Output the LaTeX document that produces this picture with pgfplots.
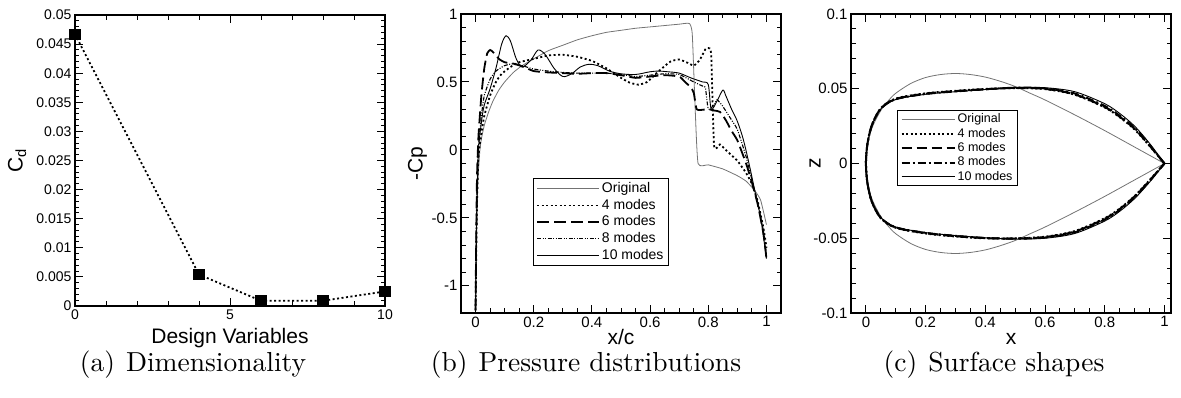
\documentclass[border=0pt]{standalone}
\usepackage{fontspec}
\usepackage{pgfplots}
\pgfplotsset{compat=1.18}
\newfontfamily\arial{Liberation Sans}
\definecolor{origgray}{gray}{0.45}
\pgfplotsset{
 myaxis/.style={
  scale only axis,
  axis line style={line width=1.9pt},
  tick style={black, line width=1pt},
  major tick length=8pt, minor tick length=4.5pt,
  tick align=inside,
  /pgf/number format/assume math mode=true,
  ticklabel style={font=\arial\fontsize{15}{17}\selectfont},
  label style={font=\arial\fontsize{21}{24}\selectfont},
  scaled ticks=false,
  yticklabel style={/pgf/number format/fixed, /pgf/number format/precision=3},
  xticklabel style={/pgf/number format/fixed, /pgf/number format/precision=2},
  legend cell align=left,
 },
 origstyle/.style={origgray, line width=0.8pt},
}
\begin{document}
\begin{tikzpicture}
\useasboundingbox (0pt,0pt) rectangle (1181pt,398pt);
% ---------------- (a)
\begin{axis}[myaxis, at={(75pt,92pt)}, anchor=south west, width=310pt, height=291pt,
  xmin=0, xmax=10, ymin=0, ymax=0.05,
  xtick={0,5,10}, minor x tick num=4,
  ytick={0,0.005,0.01,0.015,0.02,0.025,0.03,0.035,0.04,0.045,0.05}, minor y tick num=4,
  clip=false,
  ticklabel style={font=\arial\fontsize{14}{16}\selectfont},
  xlabel={Design Variables}, ylabel={C\textsubscript{d}},
  xlabel style={at={(axis description cs:0.5,-0.13)}, anchor=base},
  ylabel style={at={(axis description cs:-0.187,0.5)}, anchor=center}]
\addplot[black, line width=1.8pt, dash pattern=on 2pt off 2.5pt, mark=square*, mark size=4.8pt, mark options={solid}]
 coordinates {(0,0.0467)(4,0.0054)(6,0.0009)(8,0.0009)(10,0.0025)};
\end{axis}
% ---------------- (b)
\begin{axis}[myaxis, at={(461pt,85pt)}, anchor=south west, width=320pt, height=299pt,
  xmin=-0.05, xmax=1.05, ymin=-1.2, ymax=1,
  xtick={0,0.2,0.4,0.6,0.8,1}, minor x tick num=3,
  ytick={-1,-0.5,0,0.5,1}, minor y tick num=4,
  xlabel={x/c}, ylabel={-Cp},
  xlabel style={at={(axis description cs:0.5,-0.107)}, anchor=base},
  ylabel style={at={(axis description cs:-0.136,0.5)}, anchor=center},
  legend image code/.code={\draw[#1] (0pt,0pt) -- (62pt,0pt);},
  legend style={at={(0.224,0.4515)}, anchor=north west, draw=black, line width=1pt,
    font=\arial\fontsize{14}{16.7}\selectfont,
    nodes={text height=10pt, text depth=3pt, inner ysep=1.85pt}}]
\addplot[origstyle, smooth, tension=0.3] coordinates {(0,-1.18)(0.001,-0.9)(0.003,-0.6)(0.006,-0.35)(0.01,-0.15)(0.015,0.0)(0.02,0.08)(0.03,0.18)(0.045,0.28)(0.06,0.36)(0.08,0.44)(0.1,0.5)(0.13,0.57)(0.16,0.62)(0.2,0.67)(0.25,0.73)(0.3,0.77)(0.35,0.81)(0.4,0.84)(0.45,0.865)(0.5,0.88)(0.55,0.895)(0.6,0.905)(0.65,0.915)(0.7,0.925)(0.735,0.93)(0.745,0.85)(0.755,0.3)(0.765,-0.1)(0.8,-0.11)(0.85,-0.14)(0.9,-0.19)(0.93,-0.23)(0.96,-0.3)(0.98,-0.37)(1.0,-0.55)};
\addlegendentry{Original}
\addplot[black, line width=1.8pt, dash pattern=on 2pt off 2.5pt, smooth, tension=0.3] coordinates {(0,-1.18)(0.002,-0.8)(0.005,-0.4)(0.01,-0.05)(0.02,0.12)(0.03,0.25)(0.05,0.4)(0.07,0.5)(0.09,0.56)(0.12,0.61)(0.15,0.645)(0.2,0.67)(0.25,0.695)(0.3,0.7)(0.35,0.685)(0.4,0.655)(0.45,0.6)(0.5,0.53)(0.53,0.495)(0.56,0.48)(0.59,0.5)(0.63,0.58)(0.67,0.65)(0.7,0.665)(0.73,0.64)(0.75,0.62)(0.77,0.66)(0.79,0.74)(0.8,0.75)(0.81,0.7)(0.82,0.03)(0.84,0.04)(0.86,0.0)(0.9,-0.08)(0.93,-0.17)(0.95,-0.25)(0.97,-0.38)(0.99,-0.58)(1.0,-0.72)};
\addlegendentry{4 modes}
\addplot[black, line width=1.8pt, dash pattern=on 12pt off 5pt, smooth, tension=0.3] coordinates {(0,-1.18)(0.002,-0.7)(0.005,-0.2)(0.01,0.1)(0.02,0.4)(0.03,0.6)(0.04,0.71)(0.05,0.735)(0.06,0.72)(0.08,0.67)(0.1,0.645)(0.13,0.635)(0.16,0.615)(0.2,0.58)(0.25,0.57)(0.3,0.565)(0.35,0.56)(0.4,0.565)(0.45,0.565)(0.5,0.55)(0.55,0.53)(0.6,0.54)(0.65,0.55)(0.7,0.54)(0.72,0.5)(0.74,0.46)(0.75,0.42)(0.76,0.3)(0.78,0.295)(0.8,0.3)(0.82,0.29)(0.84,0.28)(0.86,0.22)(0.88,0.14)(0.9,0.07)(0.93,-0.1)(0.95,-0.24)(0.97,-0.4)(0.99,-0.62)(1.0,-0.8)};
\addlegendentry{6 modes}
\addplot[black, line width=1.1pt, dash pattern=on 4pt off 1.5pt on 1pt off 1.5pt on 1pt off 1.5pt, smooth, tension=0.3] coordinates {(0,-1.18)(0.002,-0.75)(0.005,-0.3)(0.01,0.02)(0.02,0.25)(0.03,0.4)(0.05,0.52)(0.07,0.58)(0.1,0.62)(0.13,0.635)(0.16,0.62)(0.2,0.595)(0.25,0.58)(0.3,0.57)(0.35,0.565)(0.4,0.565)(0.45,0.565)(0.5,0.555)(0.55,0.54)(0.6,0.55)(0.65,0.56)(0.7,0.555)(0.75,0.5)(0.78,0.47)(0.79,0.46)(0.8,0.3)(0.82,0.33)(0.83,0.37)(0.85,0.32)(0.88,0.22)(0.9,0.15)(0.93,-0.05)(0.95,-0.22)(0.97,-0.4)(0.99,-0.6)(1.0,-0.78)};
\addlegendentry{8 modes}
\addplot[black, line width=0.9pt, smooth, tension=0.5] coordinates {(0,-1.18)(0.002,-0.8)(0.005,-0.35)(0.01,0.0)(0.02,0.2)(0.03,0.33)(0.05,0.45)(0.07,0.6)(0.09,0.78)(0.105,0.84)(0.12,0.8)(0.14,0.67)(0.16,0.61)(0.19,0.66)(0.215,0.735)(0.24,0.7)(0.27,0.6)(0.3,0.54)(0.33,0.56)(0.36,0.61)(0.39,0.63)(0.42,0.62)(0.46,0.58)(0.5,0.56)(0.55,0.555)(0.6,0.575)(0.63,0.58)(0.66,0.575)(0.7,0.565)(0.74,0.53)(0.78,0.5)(0.8,0.48)(0.81,0.3)(0.83,0.36)(0.85,0.44)(0.86,0.4)(0.88,0.3)(0.9,0.21)(0.92,0.08)(0.94,-0.1)(0.96,-0.3)(0.98,-0.5)(1.0,-0.8)};
\addlegendentry{10 modes}
\end{axis}
% ---------------- (c)
\begin{axis}[myaxis, at={(851pt,85pt)}, anchor=south west, width=320pt, height=299pt,
  xmin=-0.05, xmax=1.022, ymin=-0.1, ymax=0.1,
  xtick={0,0.2,0.4,0.6,0.8,1}, minor x tick num=3,
  ytick={-0.1,-0.05,0,0.05,0.1}, minor y tick num=4,
  xlabel={x}, ylabel={z},
  xlabel style={at={(axis description cs:0.5,-0.107)}, anchor=base},
  ylabel style={at={(axis description cs:-0.1125,0.5)}, anchor=center},
  legend image code/.code={\draw[#1] (0pt,0pt) -- (53pt,0pt);},
  legend style={at={(0.144,0.679)}, anchor=north west, draw=black, line width=1pt,
    font=\arial\fontsize{12.5}{14.3}\selectfont,
    nodes={text height=9pt, text depth=2.5pt, inner ysep=1.4pt}}]
\addplot[origstyle, smooth] coordinates {(1,0)(0.95,0.0055)(0.9,0.011)(0.8,0.022)(0.7,0.0325)(0.6,0.0425)(0.55,0.047)(0.5,0.0515)(0.45,0.055)(0.4,0.0578)(0.35,0.0595)(0.3,0.0602)(0.25,0.0595)(0.2,0.0575)(0.15,0.0535)(0.1,0.047)(0.075,0.042)(0.05,0.0355)(0.025,0.026)(0.0125,0.019)(0.005,0.012)(0,0)(0.005,-0.012)(0.0125,-0.019)(0.025,-0.026)(0.05,-0.0355)(0.075,-0.042)(0.1,-0.047)(0.15,-0.0535)(0.2,-0.0575)(0.25,-0.0595)(0.3,-0.0602)(0.35,-0.0595)(0.4,-0.0578)(0.45,-0.055)(0.5,-0.0515)(0.55,-0.047)(0.6,-0.0425)(0.7,-0.0325)(0.8,-0.022)(0.9,-0.011)(0.95,-0.0055)(1,0)};
\addlegendentry{Original}
\addplot[black, line width=2pt, dash pattern=on 2pt off 2.5pt, smooth] coordinates {(1,0)(0.95,0.0118)(0.9,0.0228)(0.85,0.031)(0.8,0.0375)(0.7,0.046)(0.6,0.0498)(0.5,0.0505)(0.4,0.0498)(0.3,0.0486)(0.2,0.0469)(0.1,0.0434)(0.05,0.037)(0.02,0.0258)(0.005,0.0132)(0,0)(0.005,-0.0132)(0.02,-0.0258)(0.05,-0.0366)(0.1,-0.043)(0.2,-0.0468)(0.3,-0.0488)(0.4,-0.05)(0.5,-0.0501)(0.6,-0.049)(0.7,-0.0452)(0.8,-0.0366)(0.85,-0.0302)(0.9,-0.0218)(0.95,-0.0112)(1,0)};
\addlegendentry{4 modes}
\addplot[black, line width=2pt, dash pattern=on 10pt off 5pt, smooth] coordinates {(1,0)(0.95,0.012)(0.9,0.0232)(0.85,0.0313)(0.8,0.0378)(0.7,0.0462)(0.6,0.0499)(0.5,0.0505)(0.4,0.0497)(0.3,0.0484)(0.2,0.0467)(0.1,0.0432)(0.05,0.0368)(0.02,0.0257)(0.005,0.0131)(0,0)(0.005,-0.0131)(0.02,-0.0257)(0.05,-0.0365)(0.1,-0.0429)(0.2,-0.0466)(0.3,-0.0486)(0.4,-0.0499)(0.5,-0.0502)(0.6,-0.0492)(0.7,-0.0455)(0.8,-0.037)(0.85,-0.0305)(0.9,-0.022)(0.95,-0.0115)(1,0)};
\addlegendentry{6 modes}
\addplot[black, line width=2pt, dash pattern=on 8pt off 3pt on 2pt off 3pt, smooth] coordinates {(1,0)(0.95,0.0125)(0.9,0.0238)(0.85,0.032)(0.8,0.0385)(0.7,0.0468)(0.6,0.0502)(0.5,0.0507)(0.4,0.0496)(0.3,0.0482)(0.2,0.0465)(0.1,0.043)(0.05,0.0367)(0.02,0.0256)(0.005,0.013)(0,0)(0.005,-0.013)(0.02,-0.0256)(0.05,-0.0363)(0.1,-0.0427)(0.2,-0.0464)(0.3,-0.0484)(0.4,-0.0498)(0.5,-0.0503)(0.6,-0.0495)(0.7,-0.046)(0.8,-0.0375)(0.85,-0.031)(0.9,-0.0225)(0.95,-0.0118)(1,0)};
\addlegendentry{8 modes}
\addplot[black, line width=0.9pt, smooth] coordinates {(1,0)(0.95,0.0135)(0.9,0.025)(0.85,0.0335)(0.8,0.04)(0.7,0.048)(0.6,0.0507)(0.5,0.0508)(0.4,0.0495)(0.3,0.048)(0.2,0.0463)(0.1,0.0428)(0.05,0.0365)(0.02,0.0255)(0.005,0.013)(0,0)(0.005,-0.013)(0.02,-0.0255)(0.05,-0.0362)(0.1,-0.0425)(0.2,-0.0462)(0.3,-0.0482)(0.4,-0.0497)(0.5,-0.0505)(0.6,-0.05)(0.7,-0.0468)(0.8,-0.0385)(0.85,-0.032)(0.9,-0.0235)(0.95,-0.0125)(1,0)};
\addlegendentry{10 modes}
\end{axis}
% ---------------- captions
\node[anchor=base, scale=2.75, font=\fontsize{10}{12}\selectfont] at (193pt,26pt) {(a)\hspace{4pt}Dimensionality};
\node[anchor=base, scale=2.75, font=\fontsize{10}{12}\selectfont] at (586pt,26pt) {(b)\hspace{4pt}Pressure distributions};
\node[anchor=base, scale=2.75, font=\fontsize{10}{12}\selectfont] at (994pt,26pt) {(c)\hspace{4pt}Surface shapes};
\end{tikzpicture}
\end{document}
